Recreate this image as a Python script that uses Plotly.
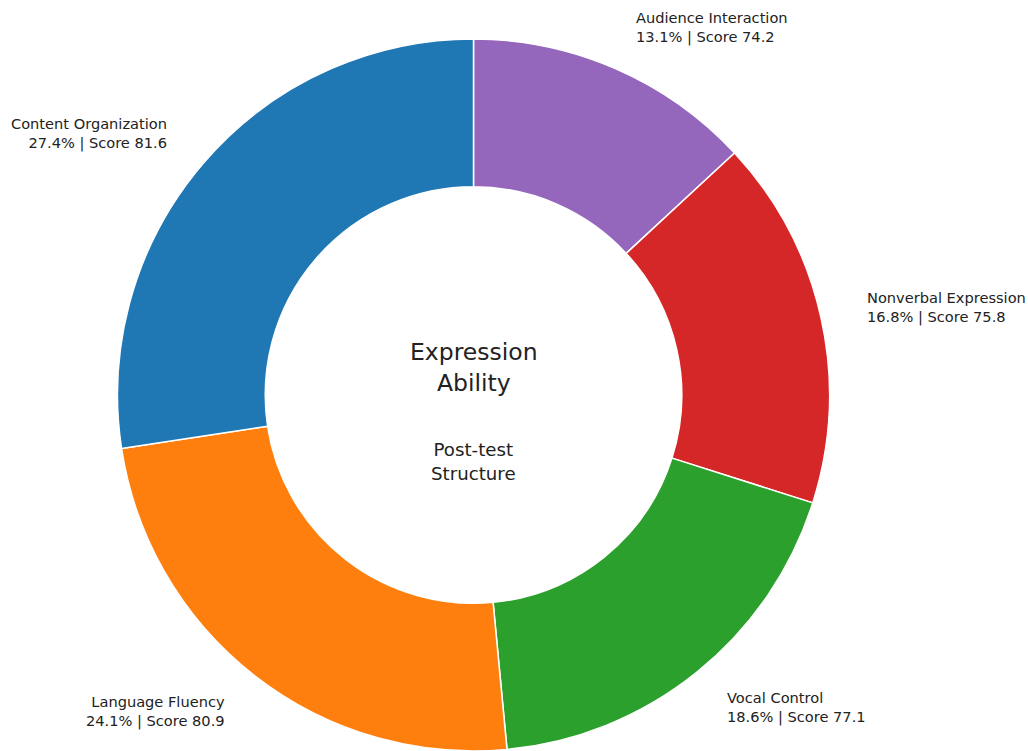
import math
import plotly.graph_objects as go

categories = ["Audience Interaction", "Nonverbal Expression", "Vocal Control",
              "Language Fluency", "Content Organization"]
shares = [13.1, 16.8, 18.6, 24.1, 27.4]
scores = [74.2, 75.8, 77.1, 80.9, 81.6]
colors = ["#9467bd", "#d62728", "#2ca02c", "#ff7f0e", "#1f77b4"]

W, H = 1028, 751
cx, cy, R = 473.5, 395.0, 356.0
label_r = 401.0

fig = go.Figure(go.Pie(
    labels=categories,
    values=shares,
    sort=False,
    direction="clockwise",
    rotation=0,
    hole=0.585,
    marker=dict(colors=colors, line=dict(color="white", width=1.5)),
    textinfo="none",
    hoverinfo="label+percent",
    domain=dict(x=[(cx - R) / W, (cx + R) / W],
                y=[max(0.0, 1 - (cy + R) / H), 1 - (cy - R) / H]),
))

annotations = []
total = sum(shares)
cum = 0.0
for name, s, sc in zip(categories, shares, scores):
    mid = cum + s / 2
    cum += s
    ang = math.radians(90 - mid / total * 360)
    px = cx + label_r * math.cos(ang)
    py = cy - label_r * math.sin(ang)
    right = math.cos(ang) > 0
    annotations.append(dict(
        x=px / W, y=1 - py / H, xref="paper", yref="paper",
        text=f"{name}<br>{s:.1f}% | Score {sc:.1f}",
        showarrow=False,
        xanchor="left" if right else "right",
        yanchor="middle",
        align="left" if right else "right",
        font=dict(family="DejaVu Sans", size=14.6, color="#222222"),
    ))

annotations.append(dict(
    x=cx / W, y=1 - 367 / H, xref="paper", yref="paper",
    text="Expression<br>Ability", showarrow=False,
    xanchor="center", yanchor="middle",
    font=dict(family="DejaVu Sans", size=23.5, color="#222222"),
))
annotations.append(dict(
    x=cx / W, y=1 - 461 / H, xref="paper", yref="paper",
    text="Post-test<br>Structure", showarrow=False,
    xanchor="center", yanchor="middle",
    font=dict(family="DejaVu Sans", size=18.2, color="#222222"),
))

fig.update_layout(
    width=W, height=H,
    margin=dict(l=0, r=0, t=0, b=0),
    paper_bgcolor="white",
    showlegend=False,
    annotations=annotations,
)

fig.write_html("out.html")
